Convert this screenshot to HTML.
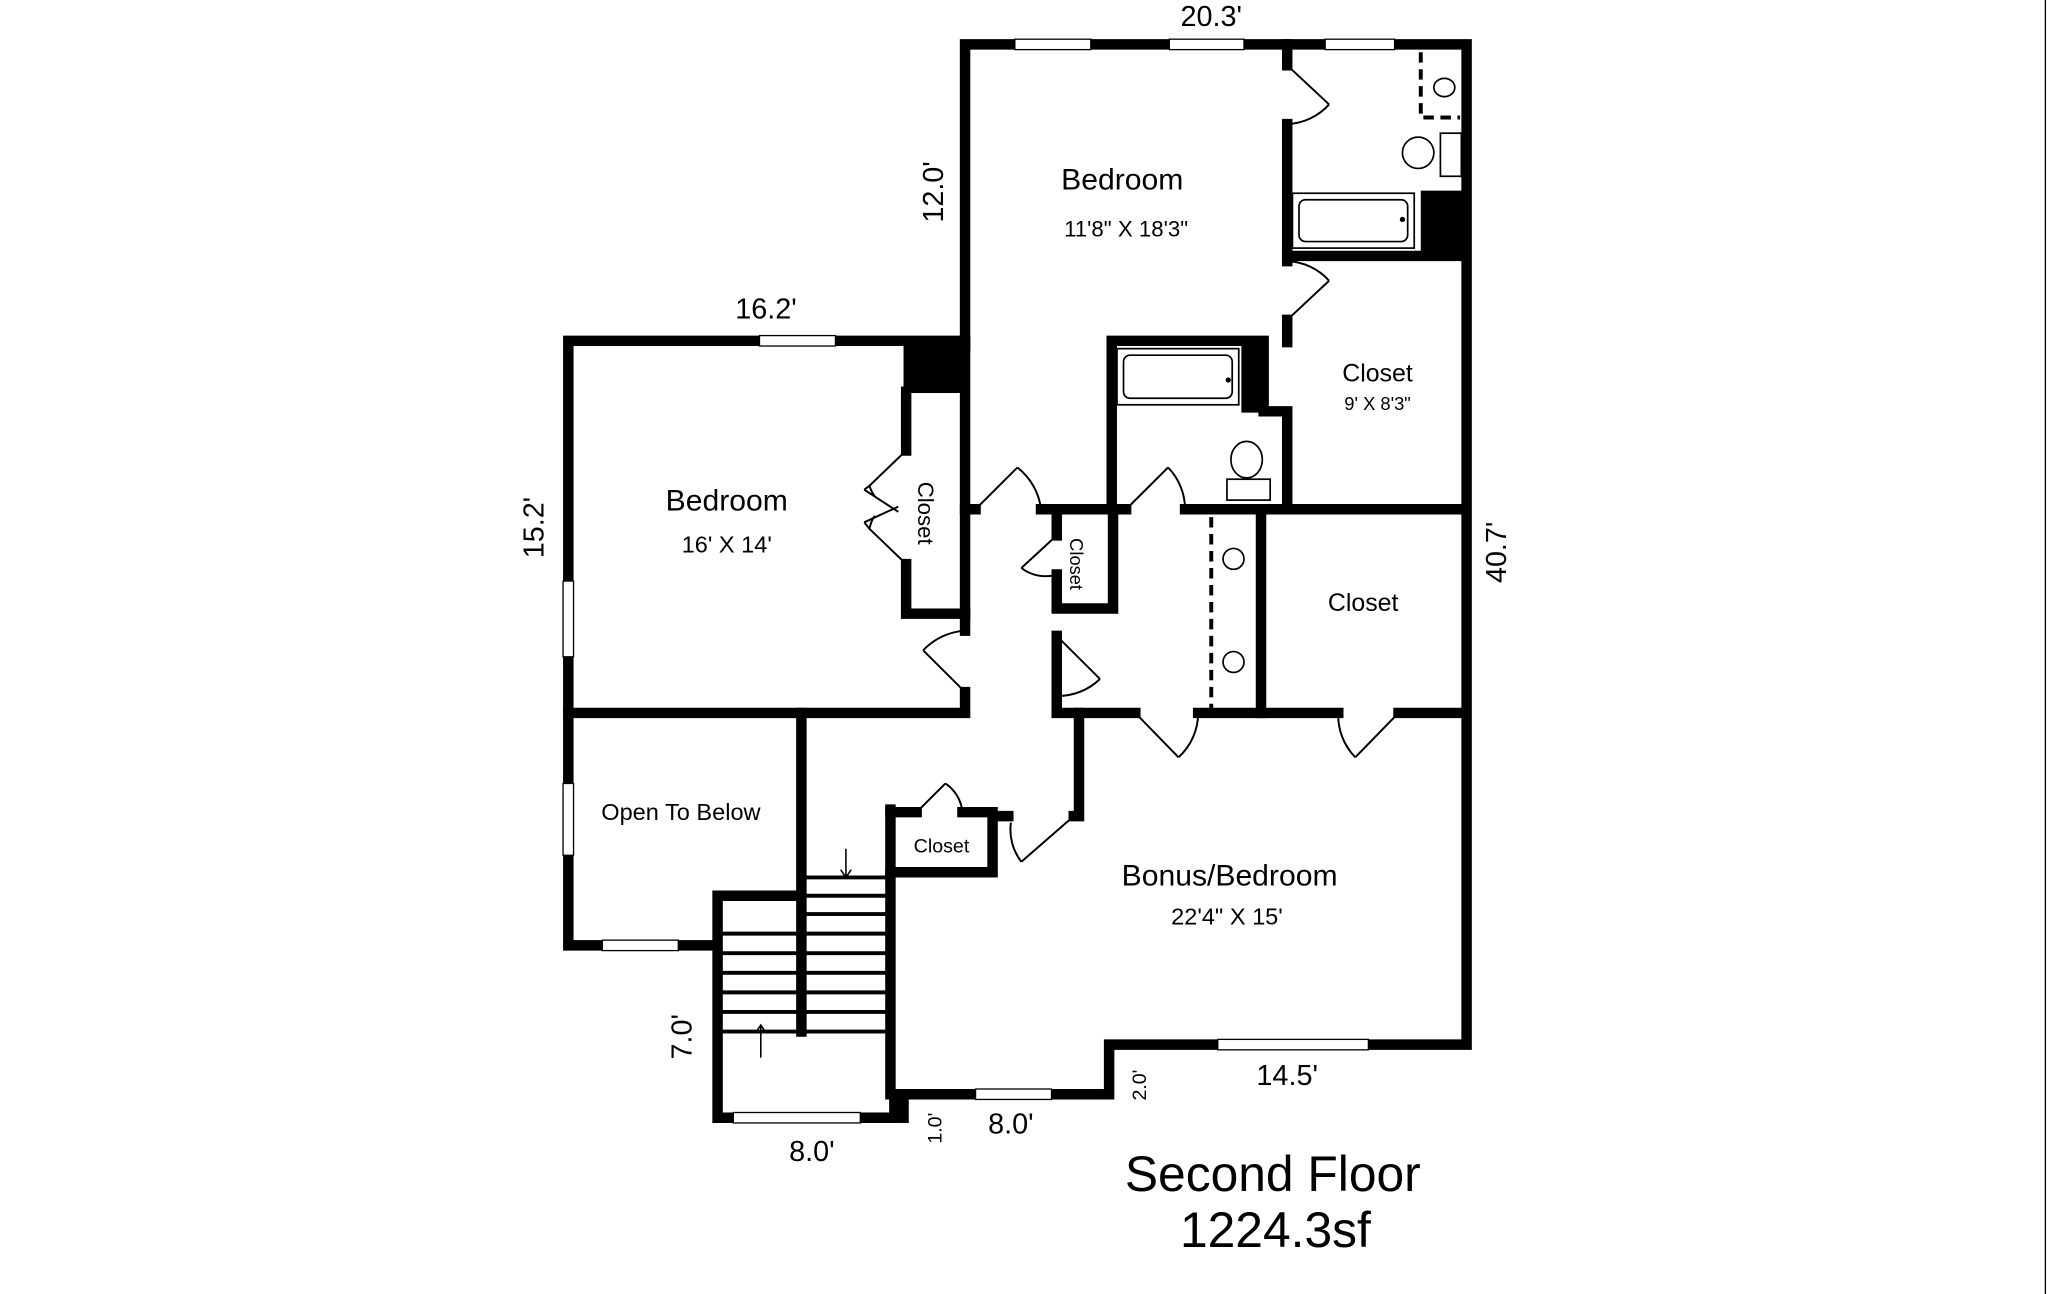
<!DOCTYPE html>
<html><head><meta charset="utf-8"><style>
html,body{margin:0;padding:0;background:#fff;}
svg{display:block}
text{font-family:"Liberation Sans",sans-serif;fill:#000}
</style></head><body>
<svg width="2048" height="1294" viewBox="0 0 1564 991" preserveAspectRatio="none" xmlns="http://www.w3.org/2000/svg">
<rect width="1564" height="991" fill="#fff"/>
<line x1="1562" y1="0" x2="1562" y2="991" stroke="#000" stroke-width="1"/>
<g stroke="#000" stroke-width="8" fill="none" stroke-linecap="square">
<path d="M737 265 V34 H1120 V800 H847 V838 H683 V856 H548 V686 H610"/>
<path d="M737 261 H434 V724 H546"/>
<path d="M434 546 H612 V790"/>
<path d="M680 620 V838"/>
<path d="M612 546 H737 V530"/>
<path d="M737 483 V265"/>
<path d="M692 300 V345 M692 432 V470 H737"/>
<path d="M807 390 H850 V466 H807 V440"/>
<path d="M807 410 V390"/>
<path d="M807 487 V546 H867"/>
<path d="M915 546 H1022"/>
<path d="M1068 546 H1118"/>
<path d="M824 546 V625 H820"/>
<path d="M770 625 H762"/>
<path d="M680 622 H700 M735 622 H758 V668 H680"/>
<path d="M849 390 V261 H965 V315 H983 V390"/>
<path d="M849 390 H860 M905 390 H1118"/>
<path d="M737 390 H745 M795 390 H807"/>
<path d="M963 394 V546"/>
<path d="M983 34 V50 M983 95 V200 M983 245 V262"/>
<path d="M983 196 H1118"/>
</g>
<rect x="690" y="261" width="47" height="40" fill="#000"/>
<rect x="1085" y="146" width="38" height="50" fill="#000"/>
<rect x="948" y="261" width="18" height="55" fill="#000"/>
<rect x="680" y="838" width="14" height="22" fill="#000"/>
<g fill="#fff" stroke="#000" stroke-width="1">
<rect x="775" y="30" width="58" height="8"/><rect x="893" y="30" width="57" height="8"/><rect x="1012" y="30" width="53" height="8"/>
<rect x="580" y="257" width="58" height="8"/>
<rect x="430" y="445" width="8" height="58"/>
<rect x="430" y="600" width="8" height="55"/>
<rect x="460" y="720" width="58" height="8"/>
<rect x="560" y="852" width="97" height="8"/>
<rect x="745" y="834" width="58" height="8"/>
<rect x="930" y="796" width="115" height="8"/>
</g>
<g stroke="#000" stroke-width="3" fill="none" stroke-dasharray="8,5">
<path d="M925 396 V546"/>
<path d="M1085 40 V90 H1115"/>
</g>
<g stroke="#000" stroke-width="3">
<path d="M614 686 H678 M614 700 H678 M550 715 H678 M550 730 H678 M550 745 H678 M550 760 H678 M550 775 H678 M550 790 H678"/>
<path d="M614 672 H678"/>
</g>
<path d="M646 650 V672 M642 666 L646 672 L650 666" stroke="#000" stroke-width="1.2" fill="none"/>
<path d="M581 810 V785 M577 791 L581 785 L585 791" stroke="#000" stroke-width="1.2" fill="none"/>
<g stroke="#000" stroke-width="1.5" fill="none">
<path d="M983 50 L1015 80 M983 95 A45 45 0 0 0 1015 80"/>
<path d="M983 245 L1015 215 M983 200 A45 45 0 0 1 1015 215"/>
<path d="M745 390 L777 358 M795 390 A48 48 0 0 0 777 358"/>
<path d="M860 390 L892 358 M905 390 A46 46 0 0 0 892 358"/>
<path d="M692 345 L664 372 L660 375 M692 432 L664 405 L660 400 M664 372 A25 25 0 0 0 668 380 M664 405 A25 25 0 0 1 668 395 M660 375 L686 392 M660 400 L686 388"/>
<path d="M807 410 L780 435 M807 440 A30 30 0 0 1 780 435"/>
<path d="M737 530 L705 498 M737 483 A48 48 0 0 0 705 498"/>
<path d="M807 487 L840 520 M807 533 A46 46 0 0 0 840 520"/>
<path d="M867 546 L900 580 M915 546 A46 46 0 0 1 900 580"/>
<path d="M1068 546 L1035 580 M1022 546 A46 46 0 0 0 1035 580"/>
<path d="M780 660 L820 625 M772 630 A40 40 0 0 0 780 660"/>
<path d="M700 622 L722 600 M735 622 A30 30 0 0 0 722 600"/>
</g>
<g stroke="#000" stroke-width="1.3" fill="#fff">
<rect x="987" y="148" width="93" height="42"/><rect x="992" y="153" width="83" height="32" rx="5"/>
<rect x="853" y="267" width="93" height="43"/><rect x="858" y="272" width="83" height="33" rx="5"/>
<ellipse cx="952" cy="352" rx="12" ry="14"/><rect x="937" y="367" width="33" height="16"/>
<ellipse cx="1083" cy="117" rx="12" ry="12"/><rect x="1100" y="102" width="16" height="33"/>
<ellipse cx="1103" cy="67" rx="8" ry="7"/>
<ellipse cx="942" cy="428" rx="8" ry="8"/><ellipse cx="942" cy="507" rx="8" ry="8"/>
</g>
<circle cx="938" cy="291" r="2"/><circle cx="1071" cy="168" r="2"/>
<text x="857" y="145" font-size="23" text-anchor="middle">Bedroom</text>
<text x="860" y="181" font-size="17" text-anchor="middle">11'8" X 18'3"</text>
<text x="555" y="391" font-size="23" text-anchor="middle">Bedroom</text>
<text x="555" y="423" font-size="18" text-anchor="middle">16' X 14'</text>
<text x="1052" y="292" font-size="19" text-anchor="middle">Closet</text>
<text x="1052" y="314" font-size="14" text-anchor="middle">9' X 8'3"</text>
<text x="1041" y="468" font-size="19" text-anchor="middle">Closet</text>
<text x="520" y="628" font-size="18" text-anchor="middle">Open To Below</text>
<text x="719" y="653" font-size="15" text-anchor="middle">Closet</text>
<text x="939" y="678" font-size="23" text-anchor="middle">Bonus/Bedroom</text>
<text x="937" y="708" font-size="18" text-anchor="middle">22'4" X 15'</text>
<text transform="translate(701,393) rotate(90)" font-size="17" text-anchor="middle">Closet</text>
<text transform="translate(817,432) rotate(90)" font-size="14" text-anchor="middle">Closet</text>
<text x="925" y="20" font-size="22" text-anchor="middle">20.3'</text>
<text x="585" y="244" font-size="22" text-anchor="middle">16.2'</text>
<text transform="translate(720,147) rotate(-90)" font-size="22" text-anchor="middle">12.0'</text>
<text transform="translate(415,404) rotate(-90)" font-size="22" text-anchor="middle">15.2'</text>
<text transform="translate(1150,423) rotate(-90)" font-size="22" text-anchor="middle">40.7'</text>
<text transform="translate(528,794) rotate(-90)" font-size="22" text-anchor="middle">7.0'</text>
<text x="620" y="889" font-size="22" text-anchor="middle">8.0'</text>
<text x="772" y="868" font-size="22" text-anchor="middle">8.0'</text>
<text x="983" y="831" font-size="22" text-anchor="middle">14.5'</text>
<text transform="translate(875,831) rotate(-90)" font-size="15" text-anchor="middle">2.0'</text>
<text transform="translate(719,864) rotate(-90)" font-size="15" text-anchor="middle">1.0'</text>
<text x="972" y="912" font-size="38" text-anchor="middle">Second Floor</text>
<text x="974" y="955" font-size="38" text-anchor="middle">1224.3sf</text>
</svg>
</body></html>
